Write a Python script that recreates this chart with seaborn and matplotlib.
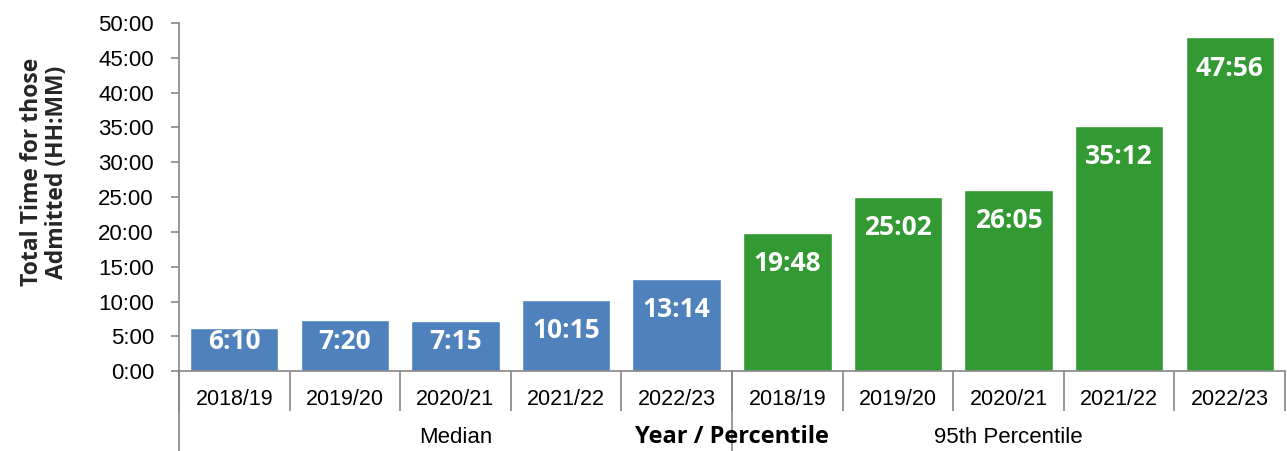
#import libraries
import pandas as pd
import matplotlib.pyplot as plt
import seaborn as sns

#data (HH:MM)
years = ['2018/19', '2019/20', '2020/21', '2021/22', '2022/23']
median_times = ['6:10', '7:20', '7:15', '10:15', '13:14']
p95_times = ['19:48', '25:02', '26:05', '35:12', '47:56']
groups = ['Median', '95th Percentile']
colours = ['#4F81BD', '#339933']

def to_hours(s):
    h, m = s.split(':')
    return int(h) + int(m) / 60

rows = []
for g, times in zip(groups, [median_times, p95_times]):
    for y, t in zip(years, times):
        rows.append({'group': g, 'year': y, 'label': t, 'hours': to_hours(t),
                     'cat': g + ' ' + y})
df = pd.DataFrame(rows)

sns.set_theme(style='white')
plt.rcParams['font.family'] = ['Liberation Sans', 'DejaVu Sans']
plt.rcParams['text.color'] = 'black'
plt.rcParams['xtick.labelcolor'] = 'black'
plt.rcParams['ytick.labelcolor'] = 'black'

fig = plt.figure(figsize=(12.87, 4.51), dpi=100)
ax = fig.add_axes([0.139, 0.177, 0.8595, 0.772])

sns.barplot(data=df, x='cat', y='hours', hue='group', palette=colours,
            dodge=False, width=0.8, legend=False, ax=ax, saturation=1)

#bar labels inside the top of each bar
for i, row in df.iterrows():
    ypos = max(row.hours - 4.4, 4.3)
    ax.text(i, ypos, row.label, ha='center', va='center', color='white',
            fontsize=19, fontweight='bold', family=['Open Sans', 'DejaVu Sans'])

#axes styling
grey = '#868686'
ax.set_ylim(0, 50)
ax.set_xlim(-0.5, 9.5)
ax.set_yticks(range(0, 51, 5))
ax.set_yticklabels([f'{v}:00' for v in range(0, 51, 5)], fontsize=16)
ax.set_xticks(range(10))
ax.set_xticklabels(years * 2, fontsize=15.5)
ax.set_xticks([i - 0.5 for i in range(11)], minor=True)
ax.tick_params(axis='x', which='major', length=0, pad=13)
ax.tick_params(axis='x', which='minor', length=29, color=grey, width=1.2, direction='out', bottom=True)
ax.tick_params(axis='y', length=6, color=grey, width=1.2, left=True, direction='out', pad=12)
for s in ['top', 'right']:
    ax.spines[s].set_visible(False)
for s in ['left', 'bottom']:
    ax.spines[s].set_color(grey)
    ax.spines[s].set_linewidth(1.2)

#group separators and labels under the years
for xv in [-0.5, 4.5]:
    ax.axvline(xv, ymin=-0.24, ymax=0, color=grey, lw=1.2, clip_on=False)
ax.text(2, -0.19, 'Median', transform=ax.get_xaxis_transform(), ha='center', va='center', fontsize=16)
ax.text(7, -0.19, '95th Percentile', transform=ax.get_xaxis_transform(), ha='center', va='center', fontsize=16)

ax.set_xlabel('')
ax.text(0.5, -0.19, 'Year / Percentile', transform=ax.transAxes, ha='center', va='center',
        fontsize=17, fontweight='bold', family=['Open Sans', 'DejaVu Sans'])
ax.set_ylabel('Total Time for those\nAdmitted (HH:MM)', fontsize=16.5, fontweight='bold',
              family=['Open Sans', 'DejaVu Sans'], linespacing=1.1)
ax.yaxis.set_label_coords(-0.099, 0.572)

plt.savefig('out.png', dpi=100)
